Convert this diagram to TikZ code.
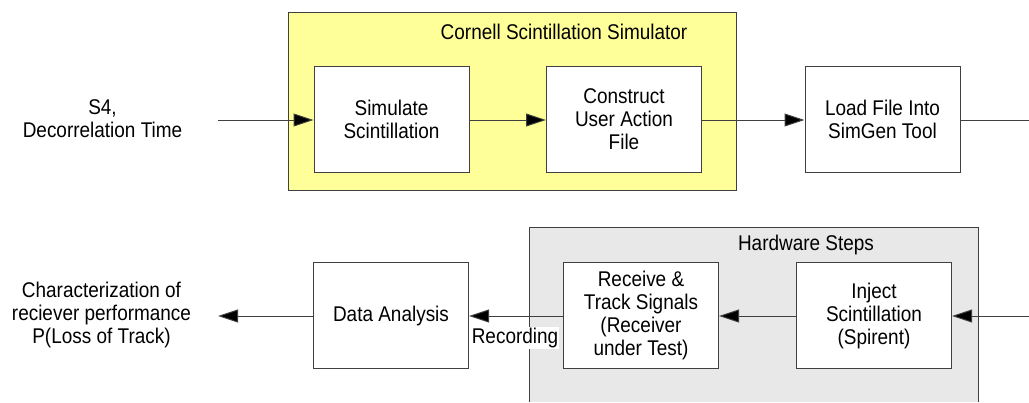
\documentclass[tikz,border=0pt]{standalone}
\usepackage{fontspec}
\setmainfont{Liberation Sans}[FakeStretch=0.89]
\usetikzlibrary{arrows.meta}
\definecolor{simyellow}{HTML}{FFFF99}
\definecolor{hwgray}{HTML}{E8E8E8}
\definecolor{edge}{HTML}{404040}
\begin{document}
\begin{tikzpicture}[x=1pt,y=-1pt,
  every node/.style={font=\fontsize{21.3}{23}\selectfont, align=center},
  stepbox/.style={draw=edge, fill=white, line width=1pt, minimum width=155pt, minimum height=106pt, inner sep=2pt},
  flow/.style={draw=edge, line width=1pt, -{Triangle[length=20pt,width=13pt,fill=black]}},
  plain/.style={draw=edge, line width=1pt},
  grouptitle/.style={anchor=center}
]
\useasboundingbox (0,0) rectangle (1029,402);
% group backgrounds
\filldraw[fill=simyellow, draw=edge, line width=1pt] (288,12) rectangle (736,190);
\fill[hwgray] (529.5,227) rectangle (978,402);
\draw[edge, line width=1pt] (529.5,402) -- (529.5,227) -- (978,227) -- (978,402);
\node[grouptitle] (cssT) at (564,32) {Cornell Scintillation Simulator};
\node[grouptitle] (hwT) at (806,245) {Hardware Steps};
% top row
\node[stepbox] (sim) at (391.5,119) {Simulate\\Scintillation};
\node[stepbox] (con) at (624,119) {Construct\\User Action\\File};
\node[stepbox] (load) at (882.5,119) {Load File Into\\SimGen Tool};
\node (inp) at (102.5,119) {S4,\\Decorrelation Time};
\coordinate (inL) at (218,120);
\coordinate (outR) at (1029,120);
\draw[flow] (inL) -- (sim.west |- inL);
\draw[flow] (sim.east |- inL) -- (con.west |- inL);
\draw[flow] (con.east |- inL) -- (load.west |- inL);
\draw[plain] (load.east |- inL) -- (outR);
% bottom row
\node[stepbox] (da) at (391,315.5) {Data Analysis};
\node[stepbox] (rec) at (641,315.5) {Receive \&\\Track Signals\\(Receiver\\under Test)};
\node[stepbox] (inj) at (874,315.5) {Inject\\Scintillation\\(Spirent)};
\node (res) at (101.5,315) {Characterization of\\reciever performance\\P(Loss of Track)};
\coordinate (resR) at (218,316);
\coordinate (inR) at (1029,316);
\draw[flow] (inR) -- (inj.east |- inR);
\draw[flow] (inj.west |- inR) -- (rec.east |- inR);
\draw[flow] (rec.west |- inR) -- (da.east |- inR);
\draw[flow] (da.west |- inR) -- (resR);
\node[fill=white, inner sep=1pt] (recording) at (515,338) {Recording};
\end{tikzpicture}
\end{document}
